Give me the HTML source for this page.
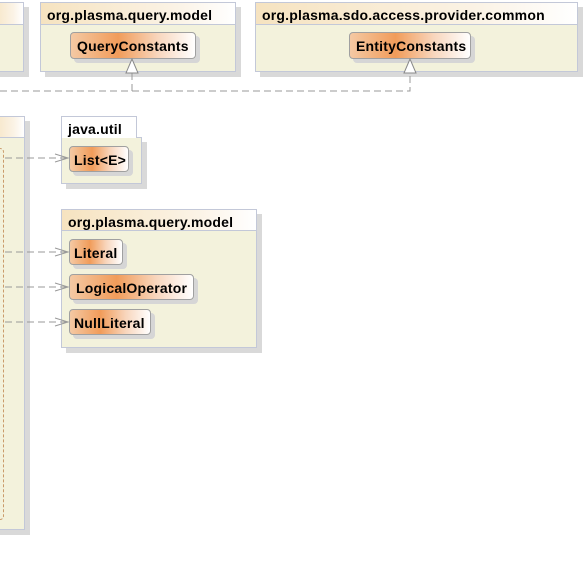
<!DOCTYPE html>
<html><head><meta charset="utf-8"><style>
body{margin:0;width:585px;height:572px;background:#fff;position:relative;overflow:hidden;font-family:"Liberation Sans",Arial,sans-serif}
.b{position:absolute;background:#f3f2dc;border:1px solid #c3c8d8;box-shadow:5px 5px 0 #d9d9d9;box-sizing:border-box}
.h{position:absolute;border:1px solid #c3c8d8;box-sizing:border-box;background:linear-gradient(to right,#f6e3c0,#fbf3e6 70%,#fff);font-weight:bold;font-size:14px;padding:4px 0 0 6px;color:#000;letter-spacing:0.2px}
.c{position:absolute;border:1px solid #a0a0a0;border-radius:4px;box-sizing:border-box;background:linear-gradient(to right,#f4c9a4,#f19c5a 38%,#f8d6bd 70%,#fff);box-shadow:4px 4px 0 #d6d6d6;font-weight:bold;font-size:14px;padding-top:5px;padding-left:4px;color:#000;letter-spacing:0.2px}
svg{position:absolute;left:0;top:0}
</style></head><body>
<div class="b" style="left:-10px;top:2px;width:34px;height:70px"></div>
<div class="h" style="left:-10px;top:2px;width:34px;height:23px"></div>
<div class="b" style="left:40px;top:2px;width:196px;height:70px"></div>
<div class="h" style="left:40px;top:2px;width:196px;height:23px">org.plasma.query.model</div>
<div class="c" style="left:70px;top:32px;width:126px;height:27px;padding-left:6px">QueryConstants</div>
<div class="b" style="left:255px;top:2px;width:323px;height:70px"></div>
<div class="h" style="left:255px;top:2px;width:323px;height:23px">org.plasma.sdo.access.provider.common</div>
<div class="c" style="left:349px;top:32px;width:122px;height:27px;padding-left:6px">EntityConstants</div>

<div class="b" style="left:-10px;top:116px;width:35px;height:414px"></div>
<div class="h" style="left:-10px;top:116px;width:35px;height:22px"></div>
<div style="position:absolute;left:-10px;top:148px;width:14px;height:372px;border:1px dashed #c99a6a;border-radius:4px;box-sizing:border-box"></div>

<div class="b" style="left:61px;top:137px;width:81px;height:47px"></div>
<div class="h" style="left:61px;top:116px;width:76px;height:22px;background:#fff;border-bottom:none">java.util</div>
<div class="c" style="left:69px;top:146px;width:60px;height:26px">List&lt;E&gt;</div>

<div class="b" style="left:61px;top:209px;width:196px;height:139px"></div>
<div class="h" style="left:61px;top:209px;width:196px;height:22px">org.plasma.query.model</div>
<div class="c" style="left:69px;top:239px;width:54px;height:26px">Literal</div>
<div class="c" style="left:69px;top:274px;width:125px;height:26px;padding-left:6px">LogicalOperator</div>
<div class="c" style="left:69px;top:309px;width:82px;height:26px">NullLiteral</div>

<svg width="585" height="572">
<g stroke="#999" fill="none" stroke-dasharray="7,4">
<path d="M0 91H410V73M132 91V73"/>
<path d="M5 158H66M5 252H66M5 287H66M5 322H66"/>
</g>
<g stroke="#999" fill="none">
<path d="M55 154L68 158L55 162M55 248L68 252L55 256M55 283L68 287L55 291M55 318L68 322L55 326"/>
</g>
<g stroke="#888" fill="#fff">
<path d="M132 59L126 73H138Z"/><path d="M410 59L404 73H416Z"/>
</g>
</svg>
</body></html>
